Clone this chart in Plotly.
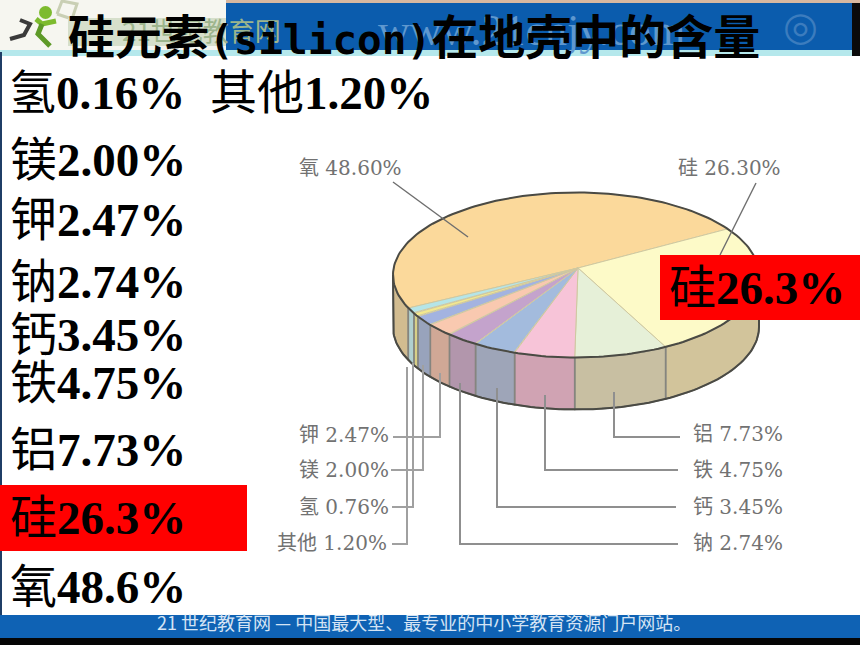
import numpy as np
import plotly.graph_objects as go

# ---- data ----
elements = ["氧", "硅", "铝", "铁", "钙", "钠", "钾", "镁", "氢", "其他"]
percent = [48.60, 26.30, 7.73, 4.75, 3.45, 2.74, 2.47, 2.00, 0.76, 1.20]
pie_names = ["氧", "硅", "铝", "铁", "钙", "钠", "钾", "镁", "氢", "其他"]
pie_values = ["48.60%", "26.30%", "7.73%", "4.75%", "3.45%", "2.74%", "2.47%", "2.00%", "0.76%", "1.20%"]
left_names = ["氢", "其他", "镁", "钾", "钠", "钙", "铁", "铝", "硅", "氧"]
left_values = ["0.16%", "1.20%", "2.00%", "2.47%", "2.74%", "3.45%", "4.75%", "7.73%", "26.3%", "48.6%"]
top_colors = ["#FBD99B", "#FDFAC8", "#E6F0D8", "#F7C4D8", "#A3BBDD",
              "#C4A3CC", "#F9C9B0", "#A3B3E0", "#F3E88E", "#B5E5E8"]
side_colors = ["#D2BC90", "#D2C49B", "#C8BFA2", "#D0A3B3", "#9EA5B8",
               "#B296AC", "#D0A896", "#98A3BC", "#D8D088", "#B0D0D0"]
title_a, title_b, title_c = "硅元素", "(silicon)", "在地壳中的含量"
site_name = "www.21cnjy.com"
footer = "21 世纪教育网 — 中国最大型、最专业的中小学教育资源门户网站。"

SERIF = "Liberation Serif, Noto Sans CJK SC"
SANS = "Noto Sans CJK SC"

# tilted pie geometry (pixel-like axes)
CX, CY, RX, RY, DEPTH = 576, 275, 183, 82.5, 52
AX, AY = 578, 268
T0 = 34.0  # where oxygen meets silicon


def warp(t):
    """Perspective: wedges nearest the viewer's left look wider."""
    u = ((t + 210) % 360) - 210
    if -210 < u < -60:
        return t - 6 * np.sin(np.pi * (-60 - u) / 150) ** 2
    return t


def arc(a, b, dy=0.0, n=60):
    t = np.radians(np.linspace(a, b, n))
    return CX + RX * np.cos(t), CY - RY * np.sin(t) + dy


# wedge limits, walking clockwise from the oxygen/silicon border
spans = [v * 3.6 for v in percent]
limits = {}
limits[elements[0]] = (warp(T0 + spans[0]), T0)
cur = T0
for name, s in zip(elements[1:], spans[1:]):
    limits[name] = (warp(cur), warp(cur - s))
    cur -= s
# oxygen's far end is the same border as the last wedge's end
limits[elements[0]] = (limits[elements[-1]][1] + 360, T0)

fig = go.Figure()

# side wall (visible between -180 and 0 degrees)
for name, col in zip(elements, side_colors):
    a, b = limits[name]
    if name == elements[0]:
        a, b = a - 360, -180  # front-left part of oxygen
    else:
        a, b = min(a, 0), max(b, -180)
    if a <= b:
        continue
    x1, y1 = arc(a, b)
    x2, y2 = arc(b, a, DEPTH)
    fig.add_trace(go.Scatter(x=np.r_[x1, x2, x1[0]], y=np.r_[y1, y2, y1[0]], mode="lines",
                             fill="toself", fillcolor=col,
                             line=dict(color="#85857F", width=1.6), hoverinfo="skip"))

# top face
for name, col in zip(elements, top_colors):
    a, b = limits[name]
    x, y = arc(a, b)
    fig.add_trace(go.Scatter(x=np.r_[AX, x, AX], y=np.r_[AY, y, AY], mode="lines",
                             fill="toself", fillcolor=col,
                             line=dict(color="#CFC8A0", width=1), hoverinfo="skip"))

# rims
rx, ry = arc(0, 360, n=240)
fig.add_trace(go.Scatter(x=rx, y=ry, mode="lines", line=dict(color="#4A4A44", width=2), hoverinfo="skip"))
bx, by = arc(-180, 0, DEPTH, n=120)
xs = np.r_[CX - RX, bx, CX + RX]
ys = np.r_[CY, by, CY]
fig.add_trace(go.Scatter(x=xs, y=ys, mode="lines", line=dict(color="#4A4A44", width=2), hoverinfo="skip"))

shapes = []


def rect(x0, y0, x1, y1, c, layer="above"):
    shapes.append(dict(type="rect", x0=x0, y0=y0, x1=x1, y1=y1, fillcolor=c,
                       line=dict(width=0), xref="x", yref="y", layer=layer))


def poly(pts, c="#8F8F8F", w=2, layer="above"):
    path = "M " + " L ".join(f"{x},{y}" for x, y in pts)
    shapes.append(dict(type="path", path=path, line=dict(color=c, width=w),
                       xref="x", yref="y", layer=layer))


# slide frame
rect(0, 0, 226, 50, "#F6F6F0", "below")
rect(226, 0, 860, 3, "#D8B8A0", "below")
rect(226, 3, 852, 50, "#0B5CAD", "below")
rect(852, 3, 860, 56, "#0A0A0A", "below")
rect(0, 50, 852, 56, "#B5E8EC", "below")
rect(0, 52, 2, 615, "#1F3E66", "below")
rect(0, 615, 860, 638, "#0F62B4", "below")
rect(0, 638, 860, 645, "#050505", "below")

# logo
poly([(57, 14), (62, 1), (77, 4), (72, 19), (57, 14)], "#C9CFB4", 3, "below")
shapes.append(dict(type="circle", x0=39, y0=6, x1=52, y1=19, fillcolor="#7DBB2E",
                   line=dict(width=0), xref="x", yref="y", layer="below"))
poly([(36, 19), (42, 24), (56, 21)], "#7DBB2E", 5, "below")
poly([(42, 24), (38, 34), (50, 46)], "#5E9A28", 5, "below")
poly([(20, 20), (30, 24), (24, 35), (10, 39)], "#3A3A3A", 4, "below")
rect(68, 18, 226, 46, "#D6DFCB", "below")

# leader lines
poly([(393, 182), (468, 237)], "#6E6E6E", 1.4)
poly([(756, 183), (720, 255)], "#6E6E6E", 1.4)
poly([(680, 437), (614, 437), (614, 392)])
poly([(678, 470), (545, 470), (545, 395)])
poly([(676, 507), (497, 507), (497, 388)])
poly([(678, 544), (460, 544), (460, 383)])
poly([(393, 437), (440, 437), (440, 373)], "#A0A0A0")
poly([(391, 470), (423, 470), (423, 365)], "#A0A0A0")
poly([(392, 507), (413, 507), (413, 363)], "#A0A0A0")
poly([(392, 544), (407, 544), (407, 367)], "#A0A0A0")

# highlight boxes
rect(660, 255, 860, 320, "#FF0000")
rect(0, 485, 247, 551, "#FF0000")

ann = []


def text(x, y, s, size, anchor="left", color="#000000", family=SERIF):
    ann.append(dict(x=x, y=y, text=s, xref="x", yref="y", showarrow=False,
                    xanchor=anchor, yanchor="middle",
                    font=dict(size=size, color=color, family=family)))


# blurred site name behind the title
text(120, 29, "21世纪教育网", 26, color="#9DB58D", family=SANS)
text(376, 30, site_name, 44, color="#5F98CF")
text(800, 26, "◎", 40, anchor="center", color="#3C7CBE", family="DejaVu Sans")
# title
title = (f'<b>{title_a}<span style="font-family:DejaVu Sans Mono;font-size:41px">{title_b}</span>'
         f'{title_c}</b>')
text(66, 33, title, 47, family=SANS)

# left column
left_x = [7, 208, 8, 8, 8, 8, 8, 8, 8, 8]
left_y = [93, 93, 160, 220, 282, 335, 383, 450, 518, 587]
for x, y, n, v in zip(left_x, left_y, left_names, left_values):
    text(x, y, f"{n}<b>{v}</b>", 47)
text(667, 288, f"硅<b>26.3%</b>", 47)

# pie labels
lab_x = [297, 676, 691, 691, 691, 691, 297, 297, 297, 275]
lab_y = [168, 168, 434, 470, 507, 543, 435, 470, 507, 543]
for x, y, n, v in zip(lab_x, lab_y, pie_names, pie_values):
    text(x, y, f"{n} {v}", 20, color="#727272", family="DejaVu Serif, Noto Sans CJK SC")

# footer
text(424, 622, footer, 18, anchor="center", color="#D5E4F4", family=SANS)

fig.update_layout(
    width=860, height=645, autosize=False, showlegend=False,
    margin=dict(l=0, r=0, t=0, b=0), paper_bgcolor="#FFFFFF", plot_bgcolor="#FFFFFF",
    xaxis=dict(range=[0, 860], visible=False, fixedrange=True),
    yaxis=dict(range=[645, 0], visible=False, fixedrange=True),
    shapes=shapes, annotations=ann,
)
fig.write_html("out.html", config=dict(displayModeBar=False),
               post_script="document.body.style.margin='0';")
